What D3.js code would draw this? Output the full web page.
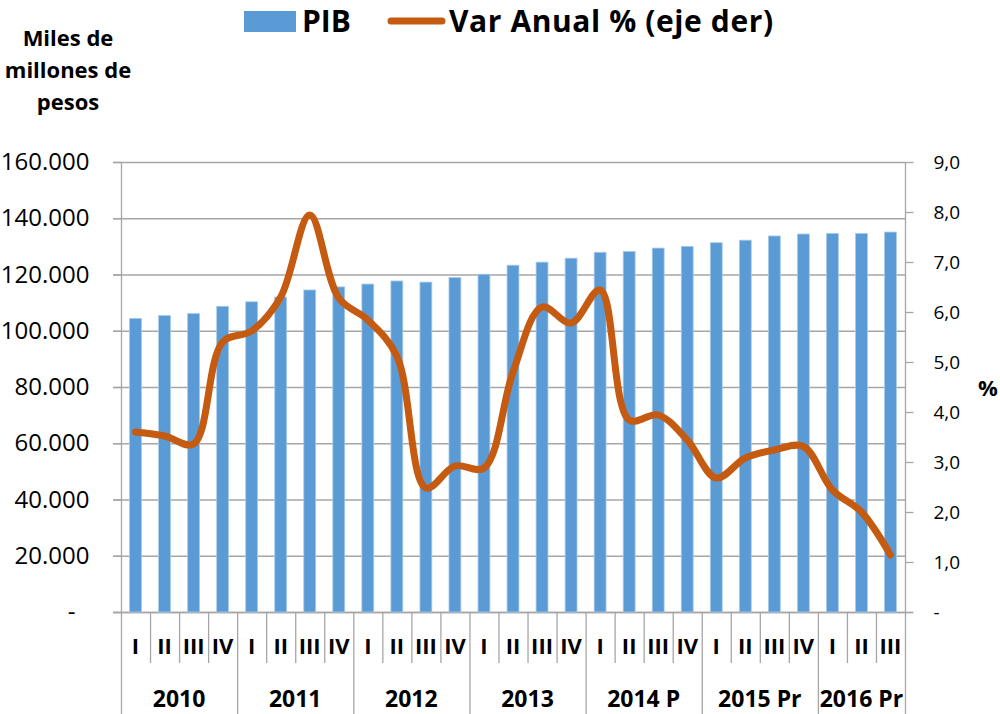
<!DOCTYPE html>
<html><head><meta charset="utf-8">
<script src="https://cdn.jsdelivr.net/npm/d3@7"></script>
<style>
html,body{margin:0;padding:0;background:#fff;}
svg{display:block;font-family:"Open Sans",sans-serif;}
</style></head>
<body>
<svg id="c" width="1000" height="714"></svg>
<script>
const quarters = ["I","II","III","IV","I","II","III","IV","I","II","III","IV","I","II","III","IV","I","II","III","IV","I","II","III","IV","I","II","III"];
const years = ["2010","2011","2012","2013","2014 P","2015 Pr","2016 Pr"];
const yearSpan = [4,4,4,4,4,4,3];
const pib = [104400,105400,106100,108700,110300,112000,114500,115600,116600,117700,117300,118900,120100,123300,124400,125800,127900,128200,129400,130000,131300,132200,133700,134400,134600,134600,135100];
const varAnual = [3.60,3.52,3.36,5.40,5.62,6.30,7.94,6.28,5.84,5.12,2.48,2.92,2.88,4.80,6.10,5.78,6.44,3.84,3.94,3.44,2.68,3.08,3.24,3.31,2.44,2.00,1.14];
const leftTicks = [0,20000,40000,60000,80000,100000,120000,140000,160000];
const rightTicks = [0,1,2,3,4,5,6,7,8,9];

const svg = d3.select("#c");
const L = 121, R = 905, T = 162, B = 612;
const idx = d3.range(quarters.length);
const x = d3.scaleBand().domain(idx).range([L, R]).padding(0);
const yL = d3.scaleLinear().domain([0,160000]).range([B, T]);
const yR = d3.scaleLinear().domain([0,9]).range([B, T]);
const grid = "#A6A6A6";

const fmtL = v => v === 0 ? "-" : d3.format(",")(v).replace(/,/g, ".");
const fmtR = v => v === 0 ? "-" : d3.format(".1f")(v).replace(".", ",");

// gridlines
svg.append("g").selectAll("line").data(leftTicks).join("line")
  .attr("x1", L - 8).attr("x2", R).attr("y1", d => yL(d) + 0.5).attr("y2", d => yL(d) + 0.5)
  .attr("stroke", grid).attr("stroke-width", 1.3);
svg.append("line").attr("x1", L - 8).attr("x2", R + 8).attr("y1", B + 0.5).attr("y2", B + 0.5)
  .attr("stroke", grid).attr("stroke-width", 1.3);

// left axis
const gl = svg.append("g").attr("transform", `translate(${L + 0.5},0)`)
  .call(d3.axisLeft(yL).tickValues(leftTicks).tickFormat(fmtL).tickSize(8).tickPadding(24));
gl.select(".domain").remove();
gl.selectAll(".tick line").attr("stroke", grid).attr("stroke-width", 1.3);
gl.selectAll(".tick text").attr("font-family", "Open Sans").attr("font-size", 24).attr("fill", "#000")
  .attr("dx", d => d === 0 ? -14 : 0);

// right axis
const gr = svg.append("g").attr("transform", `translate(${R + 0.5},0)`)
  .call(d3.axisRight(yR).tickValues(rightTicks).tickFormat(fmtR).tickSize(8).tickPadding(20));
gr.select(".domain").remove();
gr.selectAll(".tick line").attr("stroke", grid).attr("stroke-width", 1.3);
gr.selectAll(".tick text").attr("font-family", "Open Sans").attr("font-size", 19).attr("fill", "#000");

// vertical axis lines
svg.append("line").attr("x1", L + 0.5).attr("x2", L + 0.5).attr("y1", T).attr("y2", 714).attr("stroke", grid).attr("stroke-width", 1.3);
svg.append("line").attr("x1", R + 0.5).attr("x2", R + 0.5).attr("y1", T).attr("y2", 714).attr("stroke", grid).attr("stroke-width", 1.3);

// bars
const bw = x.bandwidth() * 0.41;
svg.append("g").selectAll("rect").data(pib).join("rect")
  .attr("x", (d, i) => x(i) + x.bandwidth() / 2 - bw / 2)
  .attr("width", bw)
  .attr("y", d => yL(d))
  .attr("height", d => B - yL(d))
  .attr("fill", "#5B9BD5")
  .attr("stroke", "#A9CBEA").attr("stroke-width", 0.8);

// line
const line = d3.line().x((d, i) => x(i) + x.bandwidth() / 2).y(d => yR(d)).curve(d3.curveCatmullRom.alpha(0.5));
svg.append("path").datum(varAnual).attr("d", line)
  .attr("fill", "none").attr("stroke", "#C55A11").attr("stroke-width", 7)
  .attr("stroke-linecap", "round").attr("stroke-linejoin", "round");

// category separators
const gx = svg.append("g");
let bound = [];
let acc = 0;
yearSpan.forEach(s => { acc += s; bound.push(acc); });
idx.slice(1).forEach(i => {
  const isYear = bound.includes(i);
  gx.append("line").attr("x1", x(i) + 0.5).attr("x2", x(i) + 0.5)
    .attr("y1", B).attr("y2", isYear ? 714 : 663)
    .attr("stroke", grid).attr("stroke-width", 1.3);
});
gx.selectAll("text.q").data(quarters).join("text").attr("class", "q")
  .attr("x", (d, i) => x(i) + x.bandwidth() / 2).attr("y", 654)
  .attr("text-anchor", "middle").attr("font-weight", "bold").attr("font-size", 22).text(d => d);
let start = 0;
years.forEach((yv, k) => {
  const s = start, e = start + yearSpan[k];
  const cx = (x(s) + (e < quarters.length ? x(e) : R)) / 2;
  gx.append("text").attr("x", cx).attr("y", 707).attr("text-anchor", "middle")
    .attr("font-weight", "bold").attr("font-size", 23).text(yv);
  start = e;
});

// y-axis title
const tl = ["Miles de", "millones de", "pesos"];
svg.append("g").selectAll("text").data(tl).join("text")
  .attr("x", 68).attr("y", (d, i) => 46 + i * 32).attr("text-anchor", "middle")
  .attr("font-weight", "bold").attr("font-size", 22).text(d => d);

// right title
svg.append("text").attr("x", 978).attr("y", 396).attr("font-weight", "bold").attr("font-size", 22).text("%");

// legend
svg.append("rect").attr("x", 244).attr("y", 11).attr("width", 52).attr("height", 21).attr("fill", "#5B9BD5");
svg.append("text").attr("x", 302).attr("y", 32).attr("font-weight", "bold").attr("font-size", 30).text("PIB");
svg.append("line").attr("x1", 391).attr("x2", 442).attr("y1", 21).attr("y2", 21)
  .attr("stroke", "#C55A11").attr("stroke-width", 7).attr("stroke-linecap", "round");
svg.append("text").attr("x", 449).attr("y", 32).attr("font-weight", "bold").attr("font-size", 30)
  .attr("letter-spacing", 0.6).text("Var Anual % (eje der)");
</script>
</body></html>
